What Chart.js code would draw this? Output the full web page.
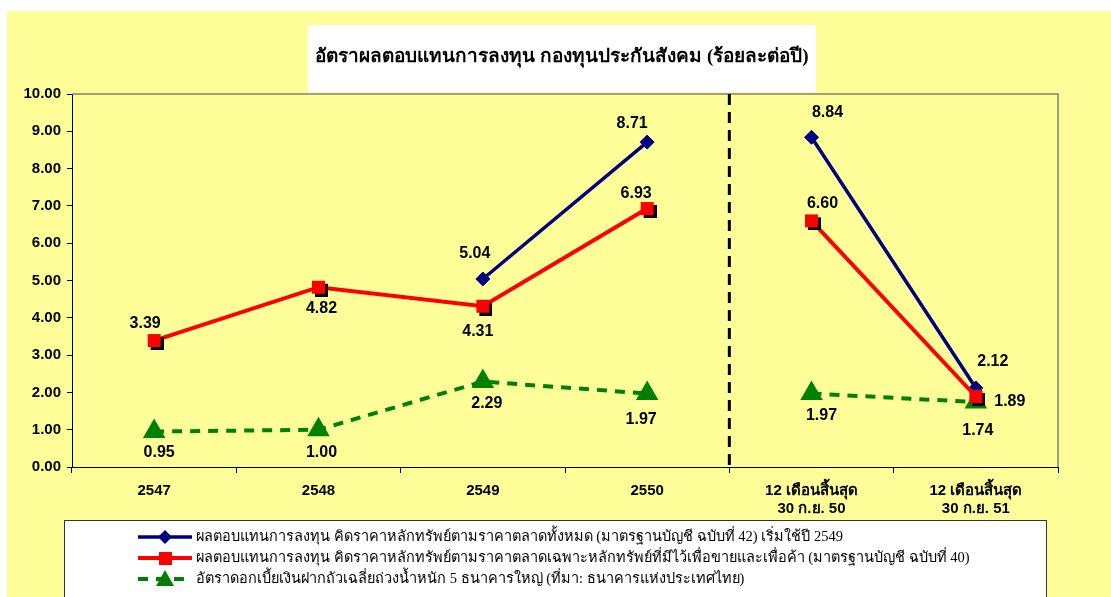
<!DOCTYPE html>
<html>
<head>
<meta charset="utf-8">
<script src="https://cdn.jsdelivr.net/npm/chart.js@4"></script>
<style>
  body { margin: 0; background: #ffffff; }
  canvas { display: block; }
</style>
</head>
<body>
<canvas id="chart" width="1111" height="597"></canvas>
<script>
// Data
const categories = ['2547', '2548', '2549', '2550',
    ['12 เดือนสิ้นสุด', '30 ก.ย. 50'], ['12 เดือนสิ้นสุด', '30 ก.ย. 51']];
const marketAllValues = [null, null, 5.04, 8.71, 8.84, 2.12];
const marketTradingValues = [3.39, 4.82, 4.31, 6.93, 6.60, 1.89];
const depositRateValues = [0.95, 1.00, 2.29, 1.97, 1.97, 1.74];
const breakAfterIndex = 3; // lines are not joined between 2550 and the 12-month periods

const titleText = 'อัตราผลตอบแทนการลงทุน กองทุนประกันสังคม (ร้อยละต่อปี)';
const seriesLabels = [
    'ผลตอบแทนการลงทุน คิดราคาหลักทรัพย์ตามราคาตลาดทั้งหมด (มาตรฐานบัญชี ฉบับที่ 42) เริ่มใช้ปี 2549',
    'ผลตอบแทนการลงทุน คิดราคาหลักทรัพย์ตามราคาตลาดเฉพาะหลักทรัพย์ที่มีไว้เพื่อขายและเพื่อค้า (มาตรฐานบัญชี ฉบับที่ 40)',
    'อัตราดอกเบี้ยเงินฝากถัวเฉลี่ยถ่วงน้ำหนัก 5 ธนาคารใหญ่ (ที่มา: ธนาคารแห่งประเทศไทย)'
];

// Where each value label sits relative to its point (dx, dy)
const marketAllLabelOffsets = [null, null, [-8, -25], [-15, -19], [16, -25], [17, -26]];
const marketTradingLabelOffsets = [[-9, -17], [3, 21], [-5, 25], [-11, -15], [11, -17], [34, 5]];
const depositRateLabelOffsets = [[5, 21], [3, 23], [4, 22], [-6, 26], [10, 22], [2, 28]];

const YELLOW = '#ffff99';
const NAVY = '#000080';
const RED = '#ff0000';
const GREEN = '#008000';
const SERIF = '"Liberation Serif", "DejaVu Serif", "Noto Serif", serif';
const SANS = '"Liberation Sans", Arial, "DejaVu Sans", sans-serif';

// Red square marker with the black drop shadow Excel gives it
function makeShadowSquare() {
    const c = document.createElement('canvas');
    c.width = 19;
    c.height = 19;
    const g = c.getContext('2d');
    g.fillStyle = '#000000';
    g.fillRect(6, 6, 13, 13);
    g.fillStyle = RED;
    g.fillRect(3, 3, 13, 13);
    return c;
}
const redSquare = makeShadowSquare();

const hideBreak = ctx => ctx.p0DataIndex === breakAfterIndex ? 'rgba(0,0,0,0)' : undefined;

// Backgrounds, title box and legend box
const framePlugin = {
    id: 'frame',
    beforeDraw(chart) {
        const ctx = chart.ctx;
        ctx.save();
        ctx.fillStyle = '#ffffff';
        ctx.fillRect(0, 0, chart.width, chart.height);
        ctx.fillStyle = YELLOW;
        ctx.fillRect(7, 11, chart.width - 7, chart.height - 11);

        // title box
        ctx.fillStyle = '#ffffff';
        ctx.fillRect(308, 25, 508, 67);
        ctx.fillStyle = '#000000';
        ctx.font = 'bold 19px ' + SERIF;
        ctx.textAlign = 'center';
        ctx.textBaseline = 'middle';
        ctx.fillText(titleText, 562, 57);

        // legend box
        ctx.fillStyle = '#ffffff';
        ctx.fillRect(64, 520, 982, 90);
        ctx.strokeStyle = '#333333';
        ctx.lineWidth = 1;
        ctx.strokeRect(64.5, 520.5, 982, 90);
        ctx.restore();
    },
    beforeDatasetsDraw(chart) {
        const ctx = chart.ctx;
        const a = chart.chartArea;
        const x = chart.scales.x;
        ctx.save();
        // gray top and right border of the plot area
        ctx.strokeStyle = '#808080';
        ctx.lineWidth = 1.5;
        ctx.beginPath();
        ctx.moveTo(a.left, a.top);
        ctx.lineTo(a.right, a.top);
        ctx.lineTo(a.right, a.bottom);
        ctx.stroke();
        // dashed divider between yearly and 12-month figures
        const divX = (x.getPixelForValue(breakAfterIndex) + x.getPixelForValue(breakAfterIndex + 1)) / 2;
        ctx.strokeStyle = '#000000';
        ctx.lineWidth = 3;
        ctx.setLineDash([11, 7]);
        ctx.beginPath();
        ctx.moveTo(divX, a.top);
        ctx.lineTo(divX, a.bottom);
        ctx.stroke();
        ctx.restore();
    }
};

// Value labels next to each point
const valueLabelPlugin = {
    id: 'valueLabels',
    afterDatasetsDraw(chart) {
        const ctx = chart.ctx;
        ctx.save();
        ctx.font = 'bold 16px ' + SANS;
        ctx.fillStyle = '#000000';
        ctx.textAlign = 'center';
        ctx.textBaseline = 'middle';
        chart.data.datasets.forEach((ds, i) => {
            const meta = chart.getDatasetMeta(i);
            ds.data.forEach((v, j) => {
                if (v === null) return;
                const off = ds.labelOffsets[j];
                const pt = meta.data[j];
                ctx.fillText(v.toFixed(2), pt.x + off[0], pt.y + off[1]);
            });
        });
        ctx.restore();
    }
};

// Legend drawn Excel-style: line sample with marker, then text
const legendPlugin = {
    id: 'excelLegend',
    afterDraw(chart) {
        const ctx = chart.ctx;
        const rows = [537, 558, 579];
        ctx.save();
        chart.data.datasets.forEach((ds, r) => {
            const y = rows[r];
            ctx.strokeStyle = ds.borderColor;
            ctx.lineWidth = ds.borderWidth;
            ctx.setLineDash(ds.borderDash || []);
            ctx.beginPath();
            ctx.moveTo(138, y);
            ctx.lineTo(192, y);
            ctx.stroke();
            ctx.setLineDash([]);
            if (ds.pointStyle === 'rectRot') {
                ctx.fillStyle = NAVY;
                ctx.beginPath();
                ctx.moveTo(165, y - 7);
                ctx.lineTo(172, y);
                ctx.lineTo(165, y + 7);
                ctx.lineTo(158, y);
                ctx.closePath();
                ctx.fill();
            } else if (ds.pointStyle === 'triangle') {
                ctx.fillStyle = GREEN;
                ctx.beginPath();
                ctx.moveTo(165, y - 9);
                ctx.lineTo(174, y + 7);
                ctx.lineTo(156, y + 7);
                ctx.closePath();
                ctx.fill();
            } else {
                ctx.fillStyle = RED;
                ctx.fillRect(159, y - 6, 13, 13);
            }
            ctx.fillStyle = '#000000';
            ctx.font = '14.5px ' + SERIF;
            ctx.textAlign = 'left';
            ctx.textBaseline = 'middle';
            ctx.fillText(ds.label, 196, y);
        });
        ctx.restore();
    }
};

new Chart(document.getElementById('chart'), {
    type: 'line',
    data: {
        labels: categories,
        datasets: [
            {
                label: seriesLabels[0],
                data: marketAllValues,
                labelOffsets: marketAllLabelOffsets,
                borderColor: NAVY,
                backgroundColor: NAVY,
                borderWidth: 3.5,
                pointStyle: 'rectRot',
                pointRadius: 7,
                pointBackgroundColor: NAVY,
                pointBorderColor: NAVY,
                pointBorderWidth: 1,
                segment: { borderColor: hideBreak },
                order: 2
            },
            {
                label: seriesLabels[1],
                data: marketTradingValues,
                labelOffsets: marketTradingLabelOffsets,
                borderColor: RED,
                backgroundColor: RED,
                borderWidth: 4,
                pointStyle: redSquare,
                pointRadius: 7,
                segment: { borderColor: hideBreak },
                order: 1
            },
            {
                label: seriesLabels[2],
                data: depositRateValues,
                labelOffsets: depositRateLabelOffsets,
                borderColor: GREEN,
                backgroundColor: GREEN,
                borderWidth: 4,
                borderDash: [10, 8],
                pointStyle: 'triangle',
                pointRadius: 9,
                pointBackgroundColor: GREEN,
                pointBorderColor: GREEN,
                segment: { borderColor: hideBreak },
                order: 3
            }
        ]
    },
    options: {
        responsive: false,
        animation: false,
        devicePixelRatio: 1,
        layout: { padding: { top: 94, left: 0, right: 53, bottom: 80 } },
        plugins: {
            legend: { display: false },
            title: { display: false },
            tooltip: { enabled: false }
        },
        scales: {
            x: {
                offset: true,
                afterFit: scale => { scale.height = 50; },
                grid: { offset: true, drawOnChartArea: false, drawTicks: true, tickLength: 6, color: '#000000' },
                border: { color: '#000000', width: 1 },
                ticks: {
                    color: '#000000',
                    padding: 9,
                    maxRotation: 0,
                    autoSkip: false,
                    font: { family: SANS, size: 15, weight: 'bold', lineHeight: 1.2 }
                }
            },
            y: {
                min: 0,
                max: 10,
                afterFit: scale => { scale.width = 72; },
                grid: { drawOnChartArea: false, drawTicks: true, tickLength: 5, color: '#000000' },
                border: { color: '#000000', width: 1 },
                ticks: {
                    stepSize: 1,
                    color: '#000000',
                    padding: 6,
                    font: { family: SANS, size: 15, weight: 'bold' },
                    callback: v => v.toFixed(2)
                }
            }
        }
    },
    plugins: [framePlugin, valueLabelPlugin, legendPlugin]
});
</script>
</body>
</html>
